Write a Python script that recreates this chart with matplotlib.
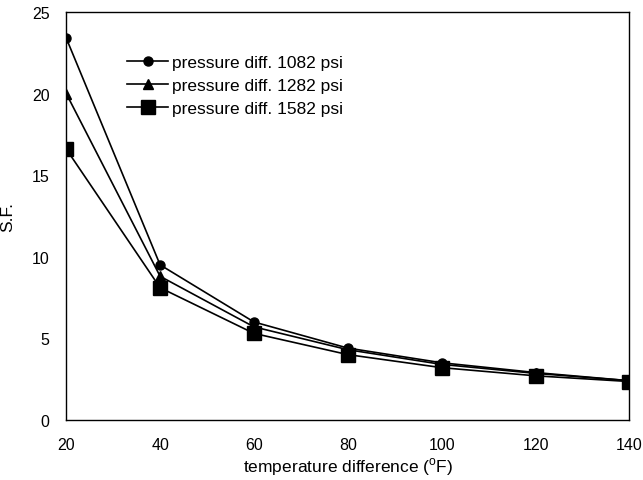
import matplotlib
matplotlib.use("Agg")
import matplotlib.pyplot as plt

temp = [20, 40, 60, 80, 100, 120, 140]
sf_1082 = [23.4, 9.5, 6.0, 4.4, 3.5, 2.9, 2.4]
sf_1282 = [20.0, 8.8, 5.7, 4.3, 3.4, 2.85, 2.4]
sf_1582 = [16.6, 8.1, 5.3, 4.0, 3.2, 2.7, 2.35]
labels = ["pressure diff. 1082 psi", "pressure diff. 1282 psi", "pressure diff. 1582 psi"]

plt.rcParams['font.family'] = ['Liberation Sans', 'DejaVu Sans']
plt.rcParams['mathtext.fontset'] = 'custom'
plt.rcParams['mathtext.rm'] = 'Liberation Sans'

fig = plt.figure(figsize=(6.43, 4.81), dpi=100)
ax = fig.add_axes([0.103, 0.125, 0.876, 0.848])

ax.plot(temp, sf_1082, color='black', lw=1.2, marker='o', ms=6.5, label=labels[0])
ax.plot(temp, sf_1282, color='black', lw=1.2, marker='^', ms=6.5, label=labels[1])
ax.plot(temp, sf_1582, color='black', lw=1.2, marker='s', ms=9.5, label=labels[2])

ax.set_xlim(20, 140)
ax.set_ylim(0, 25)
ax.set_xticks(temp)
ax.set_yticks([0, 5, 10, 15, 20, 25])
ax.tick_params(length=0, labelsize=11.5)
ax.tick_params(axis='x', pad=12)
ax.tick_params(axis='y', pad=12)
for s in ax.spines.values():
    s.set_linewidth(1.0)
ax.set_xlabel(r"temperature difference ($^{\rm o}$F)", fontsize=12.5, labelpad=3)
ax.set_ylabel("S.F.", fontsize=12.5, labelpad=12)

leg = ax.legend(loc='upper left', bbox_to_anchor=(0.095, 0.912), frameon=False,
                fontsize=12.5, handlelength=2.4, labelspacing=0.45, handletextpad=0.2,
                borderaxespad=0)

fig.savefig("out.png", dpi=100)
